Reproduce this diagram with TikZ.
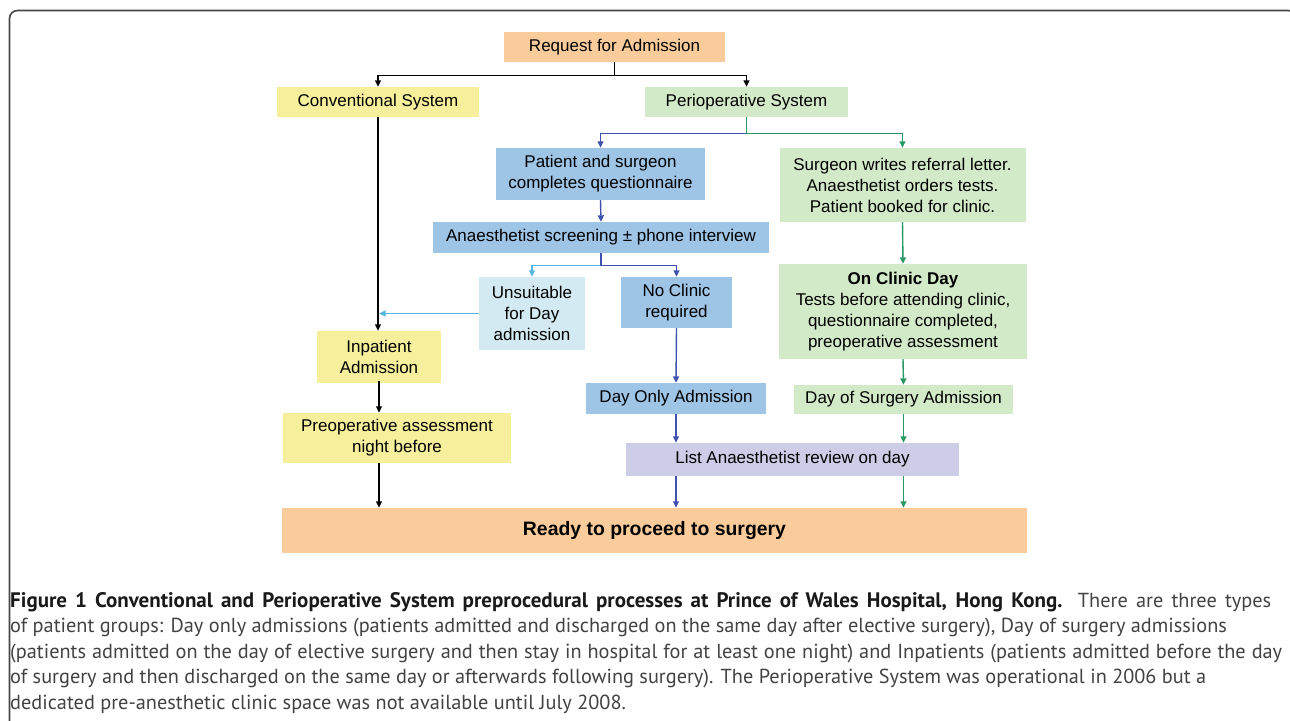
\documentclass[tikz,border=0pt]{standalone}
\usepackage{fontspec}
\setmainfont{Liberation Sans}
\newfontfamily\capfont{PT Sans}
\usetikzlibrary{arrows.meta}
\definecolor{peach}{RGB}{251,204,155}
\definecolor{sand}{RGB}{246,240,156}
\definecolor{mint}{RGB}{211,234,200}
\definecolor{sky}{RGB}{158,196,230}
\definecolor{ice}{RGB}{211,234,242}
\definecolor{lilac}{RGB}{205,205,232}
\definecolor{lnblue}{RGB}{63,81,175}
\definecolor{lngreen}{RGB}{40,152,100}
\definecolor{lnice}{RGB}{85,182,225}
\definecolor{framegray}{RGB}{70,70,70}
\tikzstyle{box}=[inner sep=0pt, align=center, font=\fontsize{17}{21}\selectfont]
\tikzstyle{wire}=[line width=1.4pt, -{Triangle[length=6.5pt,width=6pt]}]

\begin{document}
\begin{tikzpicture}[x=1pt, y=-1pt]
\useasboundingbox (0,0) rectangle (1290,720);
\clip (0,0) rectangle (1290,720);
\draw[framegray, line width=1.6pt, rounded corners=8pt] (9.5,10.5) rectangle (1296,745);
% boxes
\node[box, fill=peach, minimum width=221pt, minimum height=30pt] (Req) at (614.5,47) {Request for Admission};
\node[box, fill=sand, minimum width=202pt, minimum height=30pt] (Conv) at (378,102) {Conventional System};
\node[box, fill=mint, minimum width=203pt, minimum height=30pt] (Peri) at (746.5,102) {Perioperative System};
\node[box, fill=sky, minimum width=209pt, minimum height=52pt] (Pat) at (600.5,174) {Patient and surgeon\\completes questionnaire};
\node[box, fill=mint, minimum width=246pt, minimum height=74pt] (Surg) at (902.5,185) {Surgeon writes referral letter.\\Anaesthetist orders tests.\\Patient booked for clinic.};
\node[box, fill=sky, minimum width=336pt, minimum height=31pt] (Scr) at (601,237.5) {Anaesthetist screening ± phone interview};
\node[box, fill=ice, minimum width=106pt, minimum height=73pt] (Uns) at (532,313.5) {Unsuitable\\for Day\\admission};
\node[box, fill=sky, minimum width=111pt, minimum height=51pt] (NoC) at (676.5,302.5) {No Clinic\\required};
\node[box, fill=mint, minimum width=248pt, minimum height=95pt] (Clin) at (903,311.5) {\textbf{On Clinic Day}\\Tests before attending clinic,\\questionnaire completed,\\preoperative assessment};
\node[box, fill=sand, minimum width=124pt, minimum height=52pt] (Inp) at (379,357) {Inpatient\\Admission};
\node[box, fill=sky, minimum width=180pt, minimum height=31pt] (DayO) at (676,398.5) {Day Only Admission};
\node[box, fill=mint, minimum width=219pt, minimum height=29pt] (DoS) at (903.5,399.5) {Day of Surgery Admission};
\node[box, fill=sand, minimum width=228pt, minimum height=50pt] (Pre) at (397,438) {Preoperative assessment\\night before};
\node[box, fill=lilac, minimum width=333pt, minimum height=33pt] (List) at (792.5,459.5) {List Anaesthetist review on day};
\node[box, fill=peach, minimum width=745pt, minimum height=45pt, font=\fontsize{19.4}{23}\selectfont\bfseries] (Ready) at (654.5,530.5) {Ready to proceed to surgery};
% connectors
\draw[wire] (Req.south) -- ++(0,13) -| (Conv.north);
\draw[wire] (Req.south) -- ++(0,13) -| (Peri.north);
\draw[wire, lnblue] (Peri.south) -- ++(0,16) -| (Pat.north);
\draw[wire, lngreen] (Peri.south) -- ++(0,16) -| (Surg.north);
\draw[wire, lnblue] (Pat.south) -- (Scr.north);
\draw[wire, lnice] (Scr.south) -- ++(0,12) -| (Uns.north);
\draw[wire, lnblue] (Scr.south) -- ++(0,12) -| (NoC.north);
\draw[wire, lnice, shorten >=1pt] (Uns.west) -- (Uns.west -| Conv.south);
\draw[wire] (Conv.south) -- (Conv.south |- Inp.north);
\draw[wire] ([yshift=2pt]Inp.south) -- (Inp.south |- Pre.north);
\draw[wire] (Inp.south |- Pre.south) -- (Inp.south |- Ready.north);
\draw[wire, lnblue] (NoC.south) -- (DayO.north);
\draw[wire, lnblue] (DayO.south) -- (DayO.south |- List.north);
\draw[wire, lnblue] (DayO.south |- List.south) -- (DayO.south |- Ready.north);
\draw[wire, lngreen] (Surg.south) -- (Clin.north);
\draw[wire, lngreen] (Clin.south) -- (DoS.north);
\draw[wire, lngreen] (DoS.south) -- (DoS.south |- List.north);
\draw[wire, lngreen] (DoS.south |- List.south) -- (DoS.south |- Ready.north);
% caption
\tikzset{every node/.append style={anchor=base west, inner sep=0pt, font=\capfont\fontsize{20.3}{25}\selectfont, text=black!74}}
\node (Cap1) at (10,607) {\makebox[1261pt][s]{{\fontsize{21}{25}\selectfont\bfseries\color{black!90}Figure 1 Conventional and Perioperative System preprocedural processes at Prince of Wales Hospital, Hong Kong.} There are three types}};
\node (Cap2) at (10,632.5) {of patient groups: Day only admissions (patients admitted and discharged on the same day after elective surgery), Day of surgery admissions};
\node (Cap3) at (10,658) {\makebox[1272pt][s]{(patients admitted on the day of elective surgery and then stay in hospital for at least one night) and Inpatients (patients admitted before the day}};
\node (Cap4) at (10,683.5) {of surgery and then discharged on the same day or afterwards following surgery). The Perioperative System was operational in 2006 but a};
\node (Cap5) at (10,709) {dedicated pre-anesthetic clinic space was not available until July 2008.};
\end{tikzpicture}
\end{document}
